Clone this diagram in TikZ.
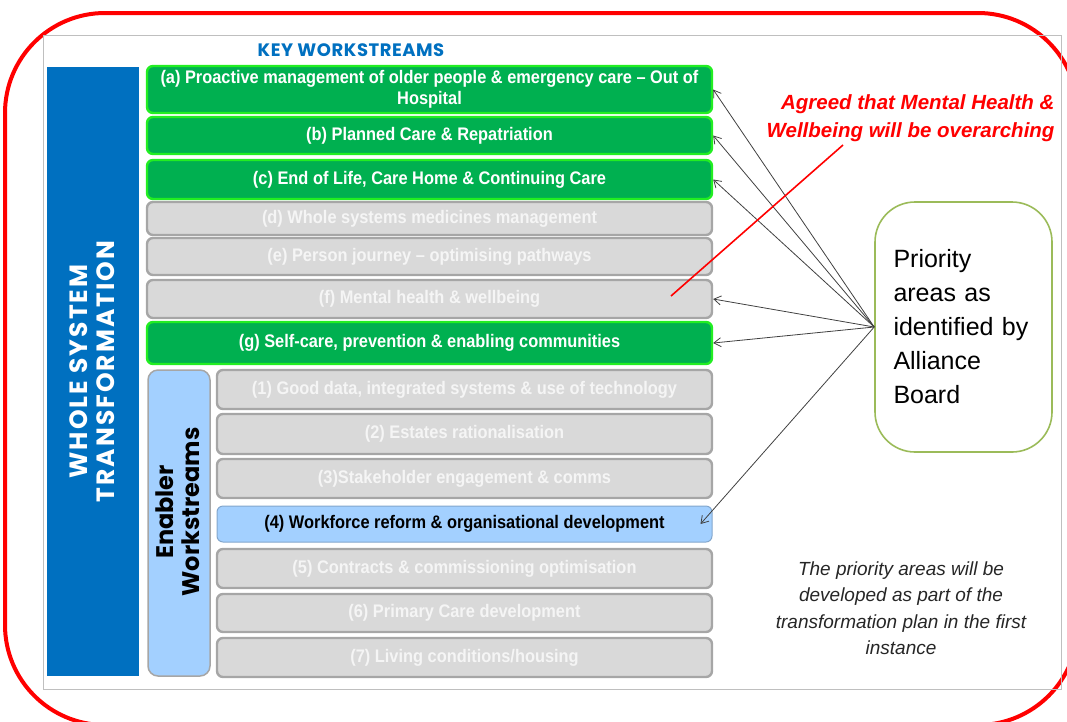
\documentclass[tikz,border=0pt]{standalone}
\usepackage{fontspec}
\setmainfont{Liberation Sans}
\newfontfamily\narrowfont{Liberation Sans}[FakeStretch=0.9]
\newfontfamily\geofont{Poppins}
\newfontfamily\geowide{Poppins}[LetterSpace=8]
\newfontfamily\geokey{Poppins}[LetterSpace=3]
\usetikzlibrary{arrows.meta}

\definecolor{wsgreen}{HTML}{00B050}
\definecolor{wslime}{HTML}{22EE22}
\definecolor{wsgray}{HTML}{D9D9D9}
\definecolor{wsedge}{HTML}{A6A6A6}
\definecolor{wsblue}{HTML}{0070C0}
\definecolor{enblue}{HTML}{A3D0FF}
\definecolor{boardgreen}{HTML}{9BBB59}

\tikzset{
	wsbox/.style={rounded corners=6pt, line width=2.4pt, minimum height=#1, inner sep=1pt, align=center,
		font={\narrowfont\bfseries\fontsize{18.2}{21}\selectfont}},
	greenbox/.style={wsbox=#1, fill=wsgreen, draw=wslime, text=white, minimum width=565},
	graybox/.style={wsbox=#1, fill=wsgray, draw=wsedge, text=white!96!black, minimum width=565},
	enabbox/.style={wsbox=#1, fill=wsgray, draw=wsedge, text=white!96!black, minimum width=495},
	arr/.style={-{Straight Barb[length=7pt,width=9pt]}, draw=black!75, line width=0.8pt},
}

\begin{document}
\begin{tikzpicture}[x=1pt, y=-1pt]
	\useasboundingbox (0,0) rectangle (1067,721);
	\clip (0,0) rectangle (1067,721);

	% outer frames
	\draw[red, line width=4pt, rounded corners=100pt] (5,13) rectangle (1078,725);
	\draw[black!25, line width=1pt] (43,35) rectangle (1061,689);

	\node[font={\geokey\bfseries\fontsize{18}{20}\selectfont}, text=wsblue] (keytitle) at (351,50) {KEY WORKSTREAMS};

	% whole system bar
	\node[fill=wsblue, minimum width=92, minimum height=609, inner sep=0] (wst) at (92.5,371.5) {};
	\node[rotate=90, align=center, text=white, font={\geowide\bfseries\fontsize{25}{27}\selectfont}] (wsttxt) at (wst.center) {WHOLE SYSTEM\\TRANSFORMATION};

	% key workstreams
	\node[greenbox=47] (wsA) at (429.5,89.5) {(a) Proactive management of older people \& emergency care – Out of\\Hospital};
	\node[greenbox=37] (wsB) at (429.5,135.5) {(b) Planned Care \& Repatriation};
	\node[greenbox=39] (wsC) at (429.5,179.5) {(c) End of Life, Care Home \&  Continuing Care};
	\node[graybox=33] (wsD) at (429.5,218.5) {(d) Whole systems medicines management};
	\node[graybox=37] (wsE) at (429.5,256.5) {(e) Person journey – optimising pathways};
	\node[graybox=38] (wsF) at (429.5,299) {(f) Mental health \& wellbeing};
	\node[greenbox=42] (wsG) at (429.5,343) {(g) Self-care, prevention \& enabling communities};

	% enablers
	\node[fill=enblue, draw=wsedge, line width=1.5pt, rounded corners=10pt, minimum width=62, minimum height=306] (enab) at (179,523) {};
	\node[rotate=90, align=center, font={\geofont\bfseries\fontsize{24}{26}\selectfont}] (enabtxt) at (178,512) {Enabler\\Workstreams};

	\node[enabbox=39] (en1) at (464.5,389.5) {(1) Good data, integrated systems \& use of technology};
	\node[enabbox=40] (en2) at (464.5,434) {(2) Estates rationalisation};
	\node[enabbox=39] (en3) at (464.5,478.5) {(3)Stakeholder engagement \& comms};
	\node[enabbox=36, fill=enblue, draw=enblue!80!black, line width=1pt, text=black] (en4) at (464.5,524) {(4) Workforce reform \& organisational development};
	\node[enabbox=39] (en5) at (464.5,568.5) {(5) Contracts \& commissioning optimisation};
	\node[enabbox=38] (en6) at (464.5,613) {(6) Primary  Care development};
	\node[enabbox=39] (en7) at (464.5,657.5) {(7) Living conditions/housing};

	% alliance board
	\node[draw=boardgreen, line width=1.6pt, fill=white, rounded corners=40pt, minimum width=177, minimum height=250,
		text width=140, align=left, inner sep=0, font={\fontsize{25}{34}\selectfont}] (board) at (963.5,327)
		{Priority\\areas as\\identified by\\Alliance\\Board};

	\draw[arr] (board.west) -- (wsA.east);
	\draw[arr] (board.west) -- (wsB.east);
	\draw[arr] (board.west) -- (wsC.east);
	\draw[arr] (board.west) -- (wsF.east);
	\draw[arr] (board.west) -- (wsG.east);
	\draw[arr] (board.west) -- ([xshift=-12pt]en4.east);

	% notes
	\node[anchor=north east, align=right, text=red, font={\bfseries\itshape\fontsize{20.5}{28}\selectfont}] (mhnote) at (1058,91)
		{Agreed that Mental Health \&\\Wellbeing  will be overarching};
	\coordinate (redtip) at (843,145);
	\coordinate (redend) at (671,296);
	\draw[red, line width=1.6pt] (redtip) -- (redend);

	\node[align=center, text=black!85, font={\itshape\fontsize{19}{26.5}\selectfont}] (plannote) at (901,608)
		{The priority areas will be\\developed  as part of the\\transformation plan in the first\\instance};
\end{tikzpicture}
\end{document}
